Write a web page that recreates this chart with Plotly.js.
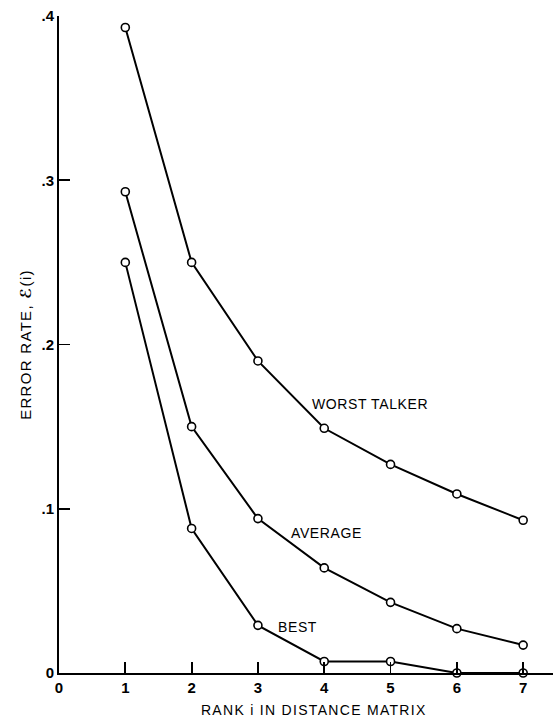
<!DOCTYPE html>
<html>
<head>
<meta charset="utf-8">
<script src="https://cdn.plot.ly/plotly-3.0.1.min.js"></script>
<style>
html, body { margin: 0; padding: 0; background: #fff; }
#chart { width: 554px; height: 718px; }
.xtitle, .ytitle { letter-spacing: 1.3px; }
.annotation-text { letter-spacing: 0.6px; }
</style>
</head>
<body>
<div id="chart"></div>
<script>
const rank = [1, 2, 3, 4, 5, 6, 7];
const worstTalker = [0.393, 0.250, 0.190, 0.149, 0.127, 0.109, 0.093];
const average = [0.293, 0.150, 0.094, 0.064, 0.043, 0.027, 0.017];
const best = [0.250, 0.088, 0.029, 0.007, 0.007, 0.000, 0.000];

const xTickVals = [0, 1, 2, 3, 4, 5, 6, 7];
const xTickText = ['0', '1', '2', '3', '4', '5', '6', '7'];
const yTickVals = [0, 0.1, 0.2, 0.3, 0.4];
const yTickText = ['0', '.1', '.2', '.3', '.4'];

const seriesNames = ['WORST TALKER', 'AVERAGE', 'BEST'];
const labelX = [4.69, 4.03, 3.59];
const labelY = [0.164, 0.0854, 0.028];

const FONT = 'Liberation Sans, Arial, Helvetica, sans-serif';

function trace(y, name) {
  return {
    x: rank, y: y, name: name, type: 'scatter', mode: 'lines+markers',
    line: {color: '#000', width: 2},
    marker: {symbol: 'circle', size: 8, color: '#fff', line: {color: '#000', width: 1.6}},
    cliponaxis: false, showlegend: false, hoverinfo: 'skip'
  };
}

const data = [trace(worstTalker, seriesNames[0]), trace(average, seriesNames[1]), trace(best, seriesNames[2])];

const annotations = seriesNames.map((n, i) => ({
  x: labelX[i], y: labelY[i], xref: 'x', yref: 'y', text: n, showarrow: false,
  font: {family: FONT, size: 14, color: '#000'}, xanchor: 'center', yanchor: 'middle'
}));

const layout = {
  width: 554, height: 718,
  margin: {l: 59, r: 1, t: 16, b: 45},
  paper_bgcolor: '#fff', plot_bgcolor: '#fff',
  font: {family: FONT, color: '#000'},
  xaxis: {
    range: [0, 7.45], showgrid: false, zeroline: false,
    showline: true, linecolor: '#000', linewidth: 2,
    ticks: 'inside', ticklen: 11, tickwidth: 1.8, tickcolor: '#000',
    tickmode: 'array', tickvals: xTickVals, ticktext: xTickText,
    tickfont: {family: FONT, size: 15, color: '#000', weight: 'bold'},
    title: {text: '&nbsp;&nbsp;&nbsp;RANK i IN DISTANCE MATRIX', font: {family: FONT, size: 14, color: '#000'}, standoff: 10},
    automargin: false
  },
  yaxis: {
    range: [0, 0.4], showgrid: false, zeroline: false,
    showline: true, linecolor: '#000', linewidth: 2,
    ticks: 'inside', ticklen: 11, tickwidth: 1.8, tickcolor: '#000',
    tickmode: 'array', tickvals: yTickVals, ticktext: yTickText,
    tickfont: {family: FONT, size: 15, color: '#000', weight: 'bold'},
    title: {text: 'ERROR RATE, <span style="font-family:DejaVu Sans;font-weight:bold;font-style:italic">ℰ</span>(i)', font: {family: FONT, size: 15, color: '#000'}, standoff: 6},
    automargin: false
  },
  annotations: annotations
};

Plotly.newPlot('chart', data, layout, {staticPlot: true, displayModeBar: false});
</script>
</body>
</html>
